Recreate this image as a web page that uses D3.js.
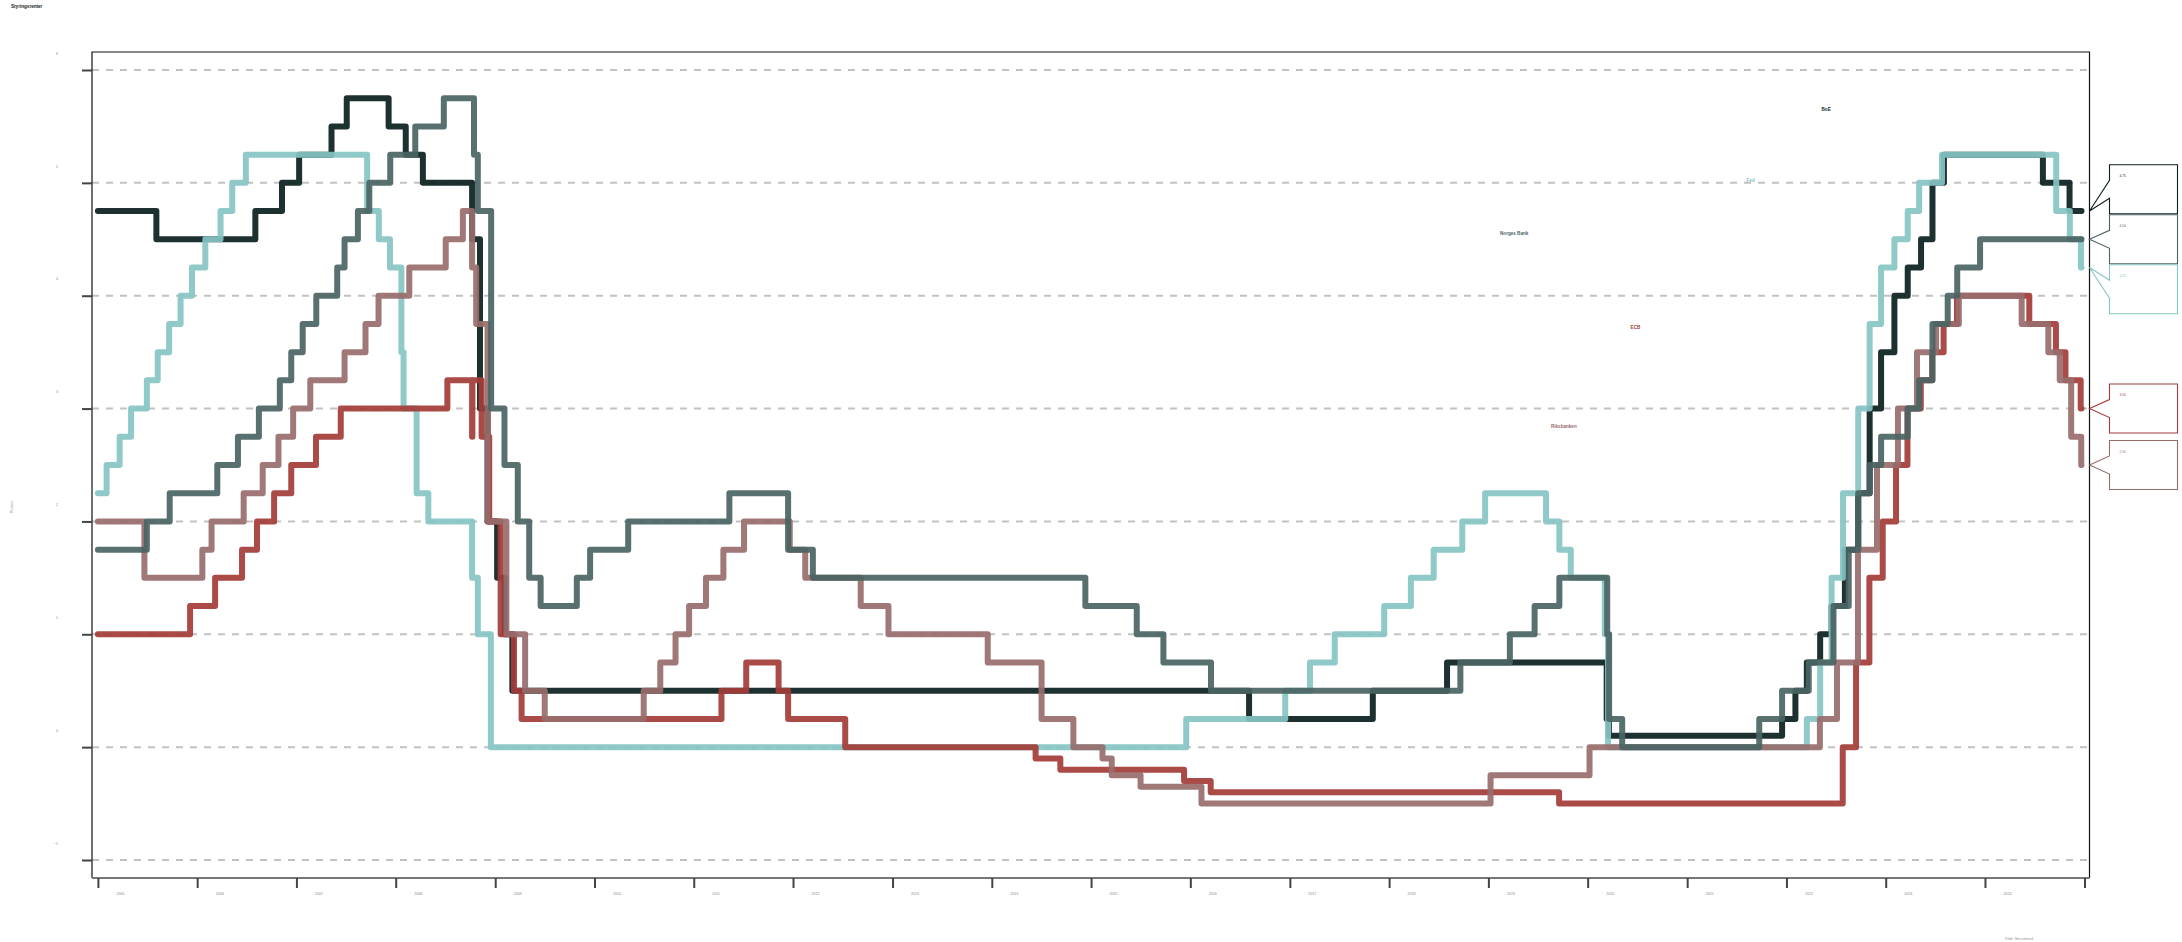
<!DOCTYPE html>
<html>
<head>
<meta charset="utf-8">
<script src="https://cdn.jsdelivr.net/npm/d3@7"></script>
<style>
  html, body { margin: 0; padding: 0; background: #ffffff; }
  svg { display: block; font-family: "Liberation Sans", Arial, sans-serif; }
</style>
</head>
<body>
<svg id="chart" width="2182" height="942"></svg>
<script>
// ---------------- DATA ----------------
const chartTitle = "Styringsrenter";
const yAxisTitle = "Prosent";
const sourceText = "Kilde: Macrobond";
const endDate = "2024-12-21";

const yTickValues = [-1, 0, 1, 2, 3, 4, 5, 6];
const yTickLabels = ["−1", "0", "1", "2", "3", "4", "5", "6"];
const xTickYears = [2005,2006,2007,2008,2009,2010,2011,2012,2013,2014,2015,2016,2017,2018,2019,2020,2021,2022,2023,2024,2025];
const xTickLabels = ["2005","2006","2007","2008","2009","2010","2011","2012","2013","2014","2015","2016","2017","2018","2019","2020","2021","2022","2023","2024",""];

// drawing order: first = bottom
const seriesNames  = ["BoE", "Fed", "ECB", "Riksbanken", "Norges Bank"];
const seriesColors = ["#0b1f1f", "#86c4c3", "#a43c38", "#976d6b", "#4a6463"];
const calloutTexts = ["4,75", "4,25", "3,00", "2,50", "4,50"];
// in-plot label anchor (decimal year, percent)
const labelYears  = [2022.40, 2021.64, 2020.48, 2019.76, 2019.26];
const labelValues = [5.65, 5.02, 3.72, 2.84, 4.55];

const boeRates = [
  ["2005-01-01",4.75],["2005-08-04",4.5],["2006-08-03",4.75],["2006-11-09",5.0],["2007-01-11",5.25],
  ["2007-05-10",5.5],["2007-07-05",5.75],["2007-12-06",5.5],["2008-02-07",5.25],["2008-04-10",5.0],
  ["2008-10-08",4.5],["2008-11-06",3.0],["2008-12-04",2.0],["2009-01-08",1.5],["2009-02-05",1.0],
  ["2009-03-05",0.5],["2016-08-04",0.25],["2017-11-02",0.5],["2018-08-02",0.75],["2020-03-11",0.25],
  ["2020-03-19",0.1],["2021-12-16",0.25],["2022-02-03",0.5],["2022-03-17",0.75],["2022-05-05",1.0],
  ["2022-06-16",1.25],["2022-08-04",1.75],["2022-09-22",2.25],["2022-11-03",3.0],["2022-12-15",3.5],
  ["2023-02-02",4.0],["2023-03-23",4.25],["2023-05-11",4.5],["2023-06-22",5.0],["2023-08-03",5.25],
  ["2024-08-01",5.0],["2024-11-07",4.75]
];
const fedRates = [
  ["2005-01-01",2.25],["2005-02-02",2.5],["2005-03-22",2.75],["2005-05-03",3.0],["2005-06-30",3.25],
  ["2005-08-09",3.5],["2005-09-20",3.75],["2005-11-01",4.0],["2005-12-13",4.25],["2006-01-31",4.5],
  ["2006-03-28",4.75],["2006-05-10",5.0],["2006-06-29",5.25],["2007-09-18",4.75],["2007-10-31",4.5],
  ["2007-12-11",4.25],["2008-01-22",3.5],["2008-01-30",3.0],["2008-03-18",2.25],["2008-04-30",2.0],
  ["2008-10-08",1.5],["2008-10-29",1.0],["2008-12-16",0.0],["2015-12-17",0.25],["2016-12-15",0.5],
  ["2017-03-16",0.75],["2017-06-15",1.0],["2017-12-14",1.25],["2018-03-22",1.5],["2018-06-14",1.75],
  ["2018-09-27",2.0],["2018-12-20",2.25],["2019-08-01",2.0],["2019-09-19",1.75],["2019-10-31",1.5],
  ["2020-03-04",1.0],["2020-03-16",0.0],["2022-03-17",0.25],["2022-05-05",0.75],["2022-06-16",1.5],
  ["2022-07-28",2.25],["2022-09-22",3.0],["2022-11-03",3.75],["2022-12-15",4.25],["2023-02-02",4.5],
  ["2023-03-23",4.75],["2023-05-04",5.0],["2023-07-27",5.25],["2024-09-19",4.75],["2024-11-08",4.5],
  ["2024-12-19",4.25]
];
const ecbRates = [
  ["2005-01-01",1.0],["2005-12-06",1.25],["2006-03-08",1.5],["2006-06-15",1.75],["2006-08-09",2.0],
  ["2006-10-11",2.25],["2006-12-13",2.5],["2007-03-14",2.75],["2007-06-13",3.0],["2008-07-09",3.25],
  ["2008-10-08",2.75],["2008-10-09",3.25],["2008-11-12",2.75],["2008-12-10",2.0],["2009-01-21",1.0],
  ["2009-03-11",0.5],["2009-04-08",0.25],["2011-04-13",0.5],["2011-07-13",0.75],["2011-11-09",0.5],
  ["2011-12-14",0.25],["2012-07-11",0.0],["2014-06-11",-0.1],["2014-09-10",-0.2],["2015-12-09",-0.3],
  ["2016-03-16",-0.4],["2019-09-18",-0.5],["2022-07-27",0.0],["2022-09-14",0.75],["2022-11-02",1.5],
  ["2022-12-21",2.0],["2023-02-08",2.5],["2023-03-22",3.0],["2023-05-10",3.25],["2023-06-21",3.5],
  ["2023-08-02",3.75],["2023-09-20",4.0],["2024-06-12",3.75],["2024-09-18",3.5],["2024-10-23",3.25],
  ["2024-12-18",3.0]
];
const riksRates = [
  ["2005-01-01",2.0],["2005-06-21",1.5],["2006-01-20",1.75],["2006-02-23",2.0],["2006-06-21",2.25],
  ["2006-08-30",2.5],["2006-10-27",2.75],["2006-12-20",3.0],["2007-02-21",3.25],["2007-06-27",3.5],
  ["2007-09-12",3.75],["2007-10-30",4.0],["2008-02-20",4.25],["2008-07-03",4.5],["2008-09-04",4.75],
  ["2008-10-08",4.25],["2008-10-23",3.75],["2008-12-04",2.0],["2009-02-11",1.0],["2009-04-21",0.5],
  ["2009-07-02",0.25],["2010-07-01",0.5],["2010-08-31",0.75],["2010-10-26",1.0],["2010-12-15",1.25],
  ["2011-02-15",1.5],["2011-04-20",1.75],["2011-07-05",2.0],["2011-12-20",1.75],["2012-02-15",1.5],
  ["2012-09-06",1.25],["2012-12-17",1.0],["2013-12-17",0.75],["2014-07-03",0.25],["2014-10-28",0.0],
  ["2015-02-12",-0.1],["2015-03-18",-0.25],["2015-07-02",-0.35],["2016-02-11",-0.5],["2019-01-09",-0.25],
  ["2020-01-08",0.0],["2022-05-04",0.25],["2022-07-06",0.75],["2022-09-21",1.75],["2022-11-30",2.5],
  ["2023-02-15",3.0],["2023-04-26",3.5],["2023-07-05",3.75],["2023-09-27",4.0],["2024-05-15",3.75],
  ["2024-08-21",3.5],["2024-10-02",3.25],["2024-11-13",2.75],["2024-12-20",2.5]
];
const norgesRates = [
  ["2005-01-01",1.75],["2005-06-30",2.0],["2005-09-22",2.25],["2006-03-16",2.5],["2006-05-31",2.75],
  ["2006-08-16",3.0],["2006-11-01",3.25],["2006-12-13",3.5],["2007-01-24",3.75],["2007-03-15",4.0],
  ["2007-05-31",4.25],["2007-06-27",4.5],["2007-08-15",4.75],["2007-09-26",5.0],["2007-12-12",5.25],
  ["2008-03-13",5.5],["2008-06-26",5.75],["2008-10-15",5.25],["2008-10-29",4.75],["2008-12-17",3.0],
  ["2009-02-04",2.5],["2009-03-25",2.0],["2009-05-06",1.5],["2009-06-17",1.25],["2009-10-28",1.5],
  ["2009-12-16",1.75],["2010-05-05",2.0],["2011-05-12",2.25],["2011-12-14",1.75],["2012-03-14",1.5],
  ["2014-12-11",1.25],["2015-06-18",1.0],["2015-09-24",0.75],["2016-03-17",0.5],["2018-09-20",0.75],
  ["2019-03-21",1.0],["2019-06-20",1.25],["2019-09-19",1.5],["2020-03-13",1.0],["2020-03-20",0.25],
  ["2020-05-07",0.0],["2021-09-23",0.25],["2021-12-16",0.5],["2022-03-24",0.75],["2022-06-23",1.25],
  ["2022-08-18",1.75],["2022-09-22",2.25],["2022-11-03",2.5],["2022-12-15",2.75],["2023-03-23",3.0],
  ["2023-05-04",3.25],["2023-06-22",3.75],["2023-08-17",4.0],["2023-09-21",4.25],["2023-12-14",4.5]
];
const seriesRates = [boeRates, fedRates, ecbRates, riksRates, norgesRates];

// ---------------- CHART ----------------
const parse = d3.timeParse("%Y-%m-%d");
const svg = d3.select("#chart");

const frame = {left: 92, right: 2089.5, top: 52, bottom: 878};

const x = d3.scaleTime()
  .domain([new Date(2005, 0, 1), new Date(2025, 0, 1)])
  .range([97.9, 2084.5]);
const y = d3.scaleLinear().domain([-1, 6]).range([860, 70]);

function yearToDate(yr) {
  const y0 = Math.floor(yr);
  const a = new Date(y0, 0, 1), b = new Date(y0 + 1, 0, 1);
  return new Date(+a + (yr - y0) * (b - a));
}

// gridlines
svg.append("g").selectAll("line").data(yTickValues).join("line")
  .attr("x1", frame.left).attr("x2", frame.right)
  .attr("y1", d => y(d)).attr("y2", d => y(d))
  .attr("stroke", "#c2c2c2").attr("stroke-width", 2)
  .attr("stroke-dasharray", "7,7");

// lines
const series = seriesNames.map((name, i) => {
  const pts = seriesRates[i].map(d => ({date: parse(d[0]), value: d[1]}));
  pts.push({date: parse(endDate), value: pts[pts.length - 1].value});
  return {name, color: seriesColors[i], pts, text: calloutTexts[i],
          lx: labelYears[i], lv: labelValues[i]};
});

const line = d3.line().x(d => x(d.date)).y(d => y(d.value)).curve(d3.curveStepAfter);

svg.append("g").selectAll("path").data(series).join("path")
  .attr("d", d => line(d.pts))
  .attr("fill", "none")
  .attr("stroke", d => d.color)
  .attr("stroke-width", 6)
  .attr("stroke-linejoin", "round")
  .attr("stroke-linecap", "round")
  .attr("stroke-opacity", 0.92);

// frame
svg.append("path")
  .attr("d", `M${frame.left},${frame.bottom}V${frame.top}H${frame.right}V${frame.bottom}`)
  .attr("fill", "none").attr("stroke", "#111").attr("stroke-width", 1.2);
svg.append("line")
  .attr("x1", frame.left).attr("x2", frame.right)
  .attr("y1", frame.bottom).attr("y2", frame.bottom)
  .attr("stroke", "#777").attr("stroke-width", 2);

// y axis
const yAxis = svg.append("g").attr("transform", `translate(${frame.left},0)`)
  .call(d3.axisLeft(y).tickValues(yTickValues).tickSize(10).tickPadding(24)
        .tickFormat((d, i) => yTickLabels[i]));
yAxis.select(".domain").remove();
yAxis.selectAll(".tick line").attr("stroke", "#444").attr("stroke-width", 2);
yAxis.selectAll(".tick text").attr("y", -17).attr("fill", "#888")
  .attr("font-size", 3.6).attr("font-family", "Liberation Sans, Arial, sans-serif");

// x axis
const xAxis = svg.append("g").attr("transform", `translate(0,${frame.bottom})`)
  .call(d3.axisBottom(x).tickValues(xTickYears.map(yr => new Date(yr, 0, 1))).tickSize(10)
        .tickFormat((d, i) => xTickLabels[i]));
xAxis.select(".domain").remove();
xAxis.selectAll(".tick line").attr("stroke", "#444").attr("stroke-width", 2);
xAxis.selectAll(".tick text").attr("x", 22).attr("y", 14).attr("fill", "#888")
  .attr("font-size", 3.6).attr("font-family", "Liberation Sans, Arial, sans-serif");

// in-plot labels
svg.append("g").selectAll("text").data(series).join("text")
  .attr("x", d => x(yearToDate(d.lx)))
  .attr("y", d => y(d.lv))
  .attr("text-anchor", "middle").attr("dominant-baseline", "middle")
  .attr("font-size", 4.6).attr("font-weight", "bold")
  .attr("fill", d => d.color)
  .text(d => d.name);

// callouts
const boxH = 49, boxGap = 1, boxX = frame.right + 20, boxW = 68;
const callouts = series.map(s => {
  const last = s.pts[s.pts.length - 1].value;
  return {s, tipY: y(last), cy: y(last)};
}).sort((a, b) => a.tipY - b.tipY);
for (let it = 0; it < 300; it++) {
  for (let i = 0; i < callouts.length - 1; i++) {
    const a = callouts[i], b = callouts[i + 1];
    const overlap = (a.cy + boxH / 2 + boxGap) - (b.cy - boxH / 2);
    if (overlap > 0) { a.cy -= overlap / 2; b.cy += overlap / 2; }
  }
}
const cg = svg.append("g").selectAll("g").data(callouts).join("g");
cg.append("path")
  .attr("d", d => {
    const t = d.cy - boxH / 2, b = d.cy + boxH / 2;
    return `M${boxX},${d.cy - 9}V${t}H${boxX + boxW}V${b}H${boxX}V${d.cy + 9}L${frame.right},${d.tipY}Z`;
  })
  .attr("fill", "#fff").attr("stroke", d => d.s.color).attr("stroke-width", 1.1);
cg.append("text")
  .attr("x", boxX + 10).attr("y", d => d.cy - boxH / 2 + 12)
  .attr("font-size", 3.2).attr("fill", d => d.s.color)
  .text(d => d.s.text);

// titles
svg.append("text").attr("x", 11).attr("y", 7).attr("dominant-baseline", "middle")
  .attr("font-size", 4.6).attr("font-weight", "bold").attr("fill", "#222").text(chartTitle);
svg.append("text").attr("transform", "translate(12,507) rotate(-90)")
  .attr("text-anchor", "middle").attr("dominant-baseline", "middle")
  .attr("font-size", 3.6).attr("fill", "#888").text(yAxisTitle);
svg.append("text").attr("x", 2005).attr("y", 940)
  .attr("font-size", 3.6).attr("fill", "#999").text(sourceText);
</script>
</body>
</html>
